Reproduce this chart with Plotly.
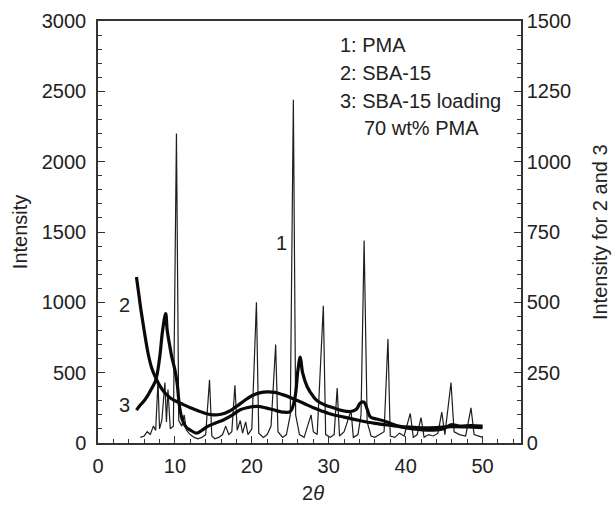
import plotly.graph_objects as go

# ---- data ----
# Curve 1: PMA (left axis)
pma_x = [5.5, 6.0, 6.4, 6.8, 7.2, 7.5, 7.8, 8.0, 8.3, 8.7, 8.9, 9.1, 9.4, 9.8, 10.2, 10.5, 10.9, 11.2, 11.5,
         12.0, 12.5, 13.0, 13.5, 14.0, 14.5, 14.8, 15.2, 15.7, 16.2, 16.6, 17.0, 17.4, 17.8, 18.1, 18.5, 18.8,
         19.2, 19.5, 20.0, 20.6, 20.9, 21.5, 22.0, 22.5, 23.1, 23.4, 24.0, 24.5, 25.0, 25.4, 25.7, 26.2, 26.8,
         27.3, 27.7, 28.0, 28.5, 29.3, 29.6, 30.2, 30.7, 31.1, 31.4, 32.0, 32.9, 33.2, 33.8, 34.2, 34.6, 35.0,
         35.5, 36.0, 36.6, 37.2, 37.7, 38.0, 38.6, 39.2, 39.8, 40.6, 41.0, 41.5, 42.0, 42.4, 43.0, 43.6, 44.2,
         44.7, 45.1, 45.9, 46.3, 47.0, 47.8, 48.5, 48.9, 49.5, 50.0]
pma_y = [40, 50, 80, 60, 120, 90, 440, 100, 160, 430, 150, 380, 100, 120, 2200, 160, 120, 200, 90,
         60, 40, 30, 40, 60, 450, 50, 30, 40, 60, 120, 60, 80, 410, 90, 160, 70,
         150, 60, 100, 1000, 70, 40, 60, 120, 700, 80, 40, 60, 200, 2440, 200, 60, 40,
         120, 200, 80, 60, 975, 60, 40, 60, 390, 50, 80, 230, 40, 60, 200, 1440, 150,
         50, 40, 60, 80, 740, 50, 40, 70, 50, 210, 40, 60, 180, 40, 60, 50, 70,
         220, 60, 430, 80, 60, 50, 250, 60, 50, 40]

# Curve 2: SBA-15 (right axis)
sba_x = [5.0, 5.3, 5.6, 6.0, 6.5, 7.0, 7.5, 8.0, 8.5, 9.0, 9.5, 10.0, 11.0, 12.0, 13.0, 14.0, 15.0, 16.0,
         17.0, 18.0, 19.0, 20.0, 21.0, 22.0, 23.0, 24.0, 25.0, 26.0, 27.0, 28.0, 29.0, 30.0, 32.0, 34.0,
         36.0, 38.0, 40.0, 42.0, 44.0, 46.0, 48.0, 50.0]
sba_y = [590, 530, 470, 400, 320, 265, 232, 205, 185, 170, 158, 150, 138, 125, 115, 105, 100, 102,
         112, 130, 150, 168, 178, 182, 180, 172, 162, 150, 138, 125, 115, 105, 92, 80,
         70, 63, 57, 54, 55, 58, 57, 55]

# Curve 3: SBA-15 loading 70 wt% PMA (right axis)
load_x = [5.0, 5.5, 6.0, 6.5, 7.0, 7.5, 8.0, 8.4, 8.8, 9.0, 9.3, 9.6, 10.0, 10.3, 10.6, 11.0, 11.5, 12.0,
          12.8, 13.5, 14.2, 15.0, 16.3, 17.5, 18.5, 19.5, 20.7, 21.8, 22.8, 24.0, 25.0, 25.6, 26.0, 26.3,
          26.6, 27.2, 28.0, 28.5, 29.5, 30.6, 31.8, 32.8, 33.6, 34.1, 34.6, 35.0, 35.4, 36.2, 37.0, 38.0,
          39.3, 41.0, 43.6, 45.0, 45.9, 47.0, 48.5, 50.0]
load_y = [117, 135, 150, 170, 195, 222, 300, 400, 460, 400, 350, 305, 260, 210, 130, 80, 55, 46,
          35, 45, 58, 68, 82, 100, 118, 126, 130, 125, 118, 110, 112, 160, 260, 305,
          250, 200, 165, 150, 135, 125, 115, 112, 120, 142, 145, 120, 93, 85, 80, 70,
          58, 50, 46, 52, 65, 60, 62, 60]

legend_lines = ["1: PMA", "2: SBA-15", "3: SBA-15 loading", "70 wt% PMA"]

FONT = "Liberation Sans, Arial, Helvetica, sans-serif"
AX = "#333333"

fig = go.Figure()
fig.add_trace(go.Scatter(x=pma_x, y=pma_y, mode="lines", line=dict(color="#1e1e1e", width=1.2),
                         yaxis="y", showlegend=False))
fig.add_trace(go.Scatter(x=sba_x, y=sba_y, mode="lines", line=dict(color="#0a0a0a", width=3.2, shape="spline"),
                         yaxis="y2", showlegend=False))
fig.add_trace(go.Scatter(x=load_x, y=load_y, mode="lines", line=dict(color="#0a0a0a", width=3.2, shape="spline"),
                         yaxis="y2", showlegend=False))

common_axis = dict(showline=True, linecolor=AX, linewidth=1.5, ticks="inside", tickcolor=AX,
                   tickwidth=1.2, ticklen=7, showgrid=False, zeroline=False, automargin=False,
                   tickfont=dict(family=FONT, size=20, color="#222"))

fig.update_layout(
    width=612, height=511,
    margin=dict(l=98, r=91, t=21, b=68),
    paper_bgcolor="white", plot_bgcolor="white",
    font=dict(family=FONT, size=20, color="#222"),
    xaxis=dict(range=[0, 55], dtick=10, tick0=0, mirror=True, ticklabelstandoff=4,
               minor=dict(dtick=2, ticks="inside", ticklen=4, tickcolor=AX),
               **common_axis),
    yaxis=dict(range=[0, 3000], dtick=500, tick0=0, ticklabelstandoff=6,
               minor=dict(dtick=100, ticks="inside", ticklen=4, tickcolor=AX),
               **common_axis),
    yaxis2=dict(range=[0, 1500], dtick=250, tick0=0, overlaying="y", side="right",
                minor=dict(dtick=50, ticks="inside", ticklen=4, tickcolor=AX),
                **common_axis),
)

# axis titles
for tx, ty, txt, ang in [(-0.184, 0.5, "Intensity", -90), (1.187, 0.5, "Intensity for 2 and 3", -90),
                         (0.508, -0.118, "2<i>θ</i>", 0)]:
    fig.add_annotation(x=tx, y=ty, xref="paper", yref="paper", text=txt, showarrow=False,
                       textangle=ang, xanchor="center", yanchor="middle",
                       font=dict(family=FONT, size=20, color="#222"))

# legend text block
ann_pos = [(31.25, 2829), (31.25, 2630), (31.25, 2431), (34.3, 2239)]
for (ax_, ay_), txt in zip(ann_pos, legend_lines):
    fig.add_annotation(x=ax_, y=ay_, xref="x", yref="y", text=txt, showarrow=False,
                       xanchor="left", yanchor="middle", font=dict(family=FONT, size=20, color="#222"))

# curve labels
for lx, ly, t in [(23.8, 1420, "1"), (3.4, 981, "2"), (3.4, 270, "3")]:
    fig.add_annotation(x=lx, y=ly, xref="x", yref="y", text=t, showarrow=False,
                       xanchor="center", yanchor="middle", font=dict(family=FONT, size=20, color="#222"))

fig.write_html("out.html")
